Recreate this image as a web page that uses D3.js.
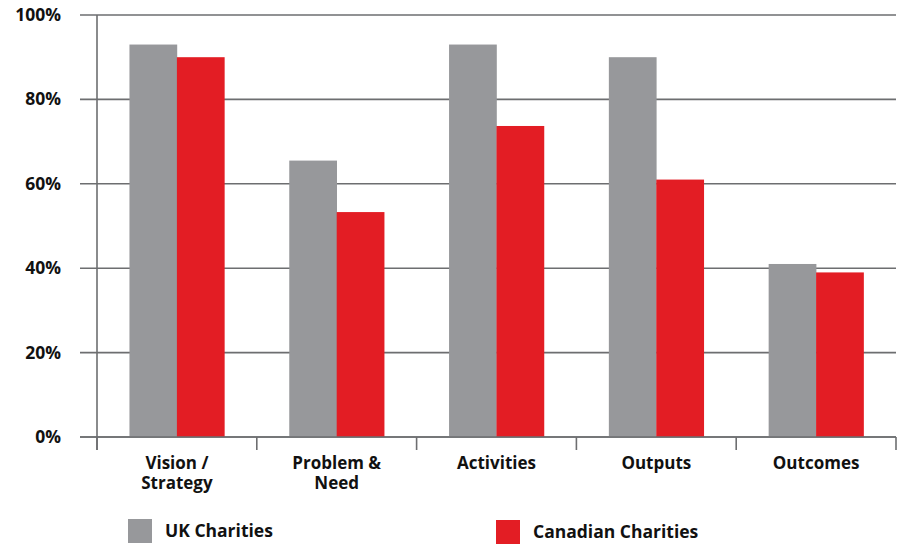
<!DOCTYPE html>
<html><head><meta charset="utf-8">
<script src="https://cdn.jsdelivr.net/npm/d3@7"></script>
<style>body{margin:0;background:#fff}svg{display:block}text{font-family:"Open Sans",sans-serif;font-weight:700;fill:#111}</style>
</head><body><svg id="c" width="898" height="545"></svg>
<script>
const categories = [["Vision /","Strategy"],["Problem &","Need"],["Activities"],["Outputs"],["Outcomes"]];
const seriesNames = ["UK Charities","Canadian Charities"];
const ukValues = [93, 65.5, 93, 90, 41];
const caValues = [90, 53.3, 73.7, 61, 39];
const yTicks = [0,20,40,60,80,100];
const colors = ["#97989b","#e31d24"];

(function(){
const svg = d3.select("#c");
const mLeft = 97, mRight = 896, mTop = 15, mBottom = 437;
const x = d3.scaleBand().domain(d3.range(categories.length)).range([mLeft,mRight]).paddingInner(0).paddingOuter(0);
const x1 = d3.scaleBand().domain([0,1]).range([0,x.bandwidth()]).paddingOuter(0.684).paddingInner(0);
const y = d3.scaleLinear().domain([0,100]).range([mBottom,mTop]);

svg.append("g").selectAll("line").data(yTicks).join("line")
  .attr("x1",80).attr("x2",mRight).attr("y1",d=>y(d)).attr("y2",d=>y(d))
  .attr("stroke","#6d6e70").attr("stroke-width",1.6);
svg.append("line").attr("x1",mLeft).attr("x2",mLeft).attr("y1",mTop).attr("y2",mBottom+13)
  .attr("stroke","#6d6e70").attr("stroke-width",1.6);
svg.append("g").selectAll("text").data(yTicks).join("text")
  .attr("x",61).attr("y",d=>y(d)+6).attr("text-anchor","end").attr("font-size",17.5)
  .text(d=>d+"%");
svg.append("g").selectAll("line").data(d3.range(categories.length+1)).join("line")
  .attr("x1",d=>mLeft+d*x.bandwidth()).attr("x2",d=>mLeft+d*x.bandwidth())
  .attr("y1",mBottom).attr("y2",mBottom+13).attr("stroke","#6d6e70").attr("stroke-width",1.6);

const data = categories.map((c,i)=>({i, vals:[ukValues[i],caValues[i]]}));
const g = svg.append("g").selectAll("g").data(data).join("g").attr("transform",d=>`translate(${x(d.i)},0)`);
g.selectAll("rect").data(d=>d.vals.map((v,k)=>({v,k}))).join("rect")
  .attr("x",d=>x1(d.k)).attr("width",x1.bandwidth()+0.3)
  .attr("y",d=>y(d.v)).attr("height",d=>y(0)-y(d.v)).attr("fill",d=>colors[d.k]);
svg.append("line").attr("x1",80).attr("x2",mRight).attr("y1",y(0)).attr("y2",y(0))
  .attr("stroke","#6d6e70").attr("stroke-width",1.6);

const lab = svg.append("g").selectAll("g").data(categories).join("g")
  .attr("transform",(d,i)=>`translate(${x(i)+x.bandwidth()/2},469)`);
lab.selectAll("text").data(d=>d).join("text")
  .attr("text-anchor","middle").attr("font-size",17)
  .attr("y",(t,j)=>j*20).text(t=>t);

const legX = [128,496], legY=[519,520];
const lg = svg.append("g").selectAll("g").data(seriesNames).join("g").attr("transform",(d,i)=>`translate(${legX[i]},${legY[i]})`);
lg.append("rect").attr("width",24).attr("height",24).attr("fill",(d,i)=>colors[i]);
lg.append("text").attr("x",37).attr("y",18).attr("font-size",17.5).text(d=>d);
})();
</script></body></html>
